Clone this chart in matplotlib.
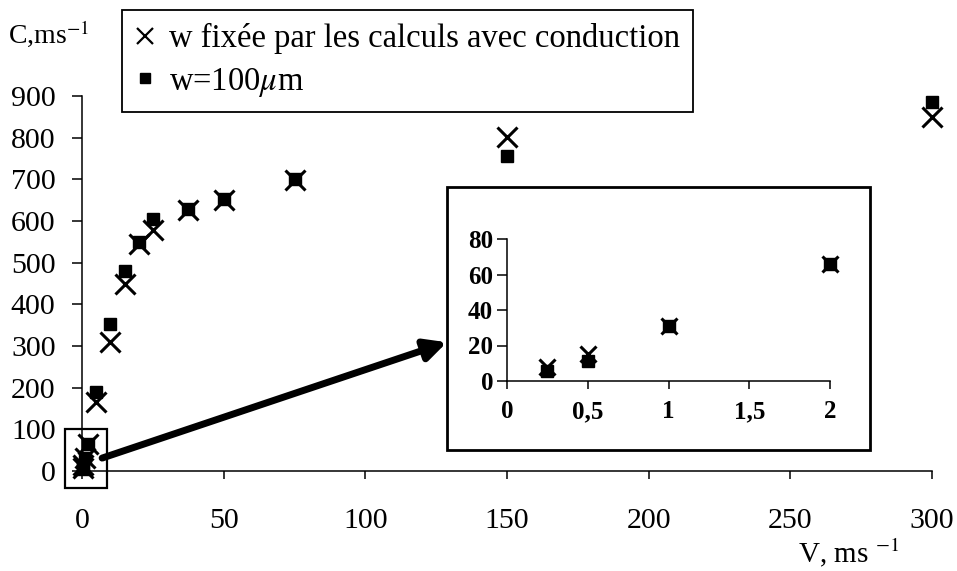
import matplotlib
matplotlib.use("Agg")
import matplotlib.pyplot as plt
from matplotlib.lines import Line2D
from matplotlib.patches import Rectangle

plt.rcParams["font.family"] = ["Liberation Serif", "DejaVu Serif"]
plt.rcParams["mathtext.fontset"] = "stix"

# Données
v = [0.25, 0.5, 1, 2, 5, 10, 15, 20, 25, 37.5, 50, 75, 150, 300]
c_conduction = [8, 15, 31, 66, 166, 310, 449, 545, 578, 626, 650, 698, 802, 850]
c_w100 = [5.5, 11, 31, 66, 190, 353, 481, 550, 605, 628, 652, 700, 756, 886]

inset_xticks = [0, 0.5, 1, 1.5, 2]
inset_xlabels = ["0", "0,5", "1", "1,5", "2"]
inset_yticks = [0, 20, 40, 60, 80]
main_xticks = [0, 50, 100, 150, 200, 250, 300]
main_yticks = list(range(0, 1000, 100))

W, H = 957, 571
fig = plt.figure(figsize=(W / 100, H / 100), dpi=100)


def px_box(x0, y0, x1, y1):
    # pixels -> fractions de la figure
    return [x0 / W, 1 - y1 / H, (x1 - x0) / W, (y1 - y0) / H]


def style_axes(ax):
    for side in ["top", "right"]:
        ax.spines[side].set_visible(False)
    for side in ["left", "bottom"]:
        ax.spines[side].set_linewidth(1.1)


# Graphe principal
ax = fig.add_axes(px_box(82, 96, 932, 471))
style_axes(ax)
ax.plot(v, c_w100, "s", color="black", markersize=9, clip_on=False, zorder=3)
ax.plot(v, c_conduction, "x", color="black", markersize=14, mew=2.2,
        clip_on=False, zorder=4)
ax.set_xlim(0, 300)
ax.set_ylim(0, 900)
ax.set_xticks(main_xticks)
ax.set_yticks(main_yticks)
ax.tick_params(axis="y", direction="out", length=7, width=1.1, pad=12,
               labelsize=21.5)
ax.tick_params(axis="x", direction="out", length=6, width=1.1, pad=21,
               labelsize=21.5)

# Zone agrandie + flèche
ax.add_patch(Rectangle((-6, -41), 14.8, 142, fill=False, lw=1.6,
                       edgecolor="black", clip_on=False, zorder=5))
ax.annotate("", xy=(128.8, 309), xytext=(7.1, 31),
            arrowprops=dict(arrowstyle="-|>", lw=5, mutation_scale=32,
                            color="black", shrinkA=0, shrinkB=0),
            annotation_clip=False, zorder=6)

# Cadre de l'encart
fig.add_artist(Rectangle((447 / W, 1 - 450 / H), (870 - 447) / W,
                         (450 - 187) / H, transform=fig.transFigure,
                         fill=True, facecolor="white", edgecolor="black",
                         lw=2, zorder=2))

# Encart
axin = fig.add_axes(px_box(507, 239, 830, 381), zorder=3)
axin.patch.set_alpha(0)
style_axes(axin)
axin.plot(v[:4], c_w100[:4], "s", color="black", markersize=8, clip_on=False)
axin.plot(v[:4], c_conduction[:4], "x", color="black", markersize=12,
          mew=2.2, clip_on=False)
axin.set_xlim(0, 2)
axin.set_ylim(0, 80)
axin.set_xticks(inset_xticks)
axin.set_xticklabels(inset_xlabels, fontweight="bold")
axin.set_yticks(inset_yticks)
axin.set_yticklabels([str(t) for t in inset_yticks], fontweight="bold")
axin.tick_params(axis="y", direction="out", length=7, width=1.1, pad=3,
                 labelsize=18)
axin.tick_params(axis="x", direction="out", length=6, width=1.1, pad=8,
                 labelsize=18)

# Titres des axes
fig.text(8 / W, 1 - 43 / H, "C,ms$^{-1}$", fontsize=20, ha="left",
         va="baseline")
fig.text(849 / W, 1 - 562 / H, "V, ms $^{-1}$", fontsize=21, ha="center",
         va="baseline")

# Légende
handles = [
    Line2D([], [], linestyle="none", marker="x", color="black",
           markersize=11, mew=1.6),
    Line2D([], [], linestyle="none", marker="s", color="black",
           markersize=7),
]
labels = ["w fixée par les calculs avec conduction", "w=100$\\mu$m"]
leg = fig.legend(handles, labels, loc="upper left",
                 bbox_to_anchor=(122 / W, 1 - 10 / H), borderaxespad=0,
                 fontsize=23.5, handlelength=0.6, handletextpad=0.45,
                 labelspacing=0.35, borderpad=0.4, fancybox=False,
                 framealpha=1, edgecolor="black")
leg.get_frame().set_linewidth(1.3)

fig.savefig("out.png", dpi=100)
